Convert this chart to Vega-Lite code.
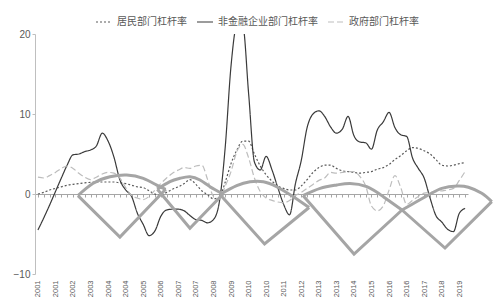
{
  "$schema": "https://vega.github.io/schema/vega-lite/v6.json",
  "width": 433,
  "height": 240,
  "autosize": "none",
  "padding": {"left": 35, "top": 34, "right": 32, "bottom": 30},
  "config": {"view": {"stroke": null}, "font": "Liberation Sans"},
  "datasets": {
    "series": [
      {"d": "2001-01-01", "居民部门杠杆率": 0.0, "非金融企业部门杠杆率": -4.5, "政府部门杠杆率": 2.1},
      {"d": "2001-04-01", "居民部门杠杆率": 0.2, "非金融企业部门杠杆率": -3.0, "政府部门杠杆率": 2.0},
      {"d": "2001-07-01", "居民部门杠杆率": 0.5, "非金融企业部门杠杆率": -1.4, "政府部门杠杆率": 2.3},
      {"d": "2001-10-01", "居民部门杠杆率": 0.7, "非金融企业部门杠杆率": 0.3, "政府部门杠杆率": 2.7},
      {"d": "2002-01-01", "居民部门杠杆率": 0.9, "非金融企业部门杠杆率": 2.0, "政府部门杠杆率": 3.2},
      {"d": "2002-04-01", "居民部门杠杆率": 1.1, "非金融企业部门杠杆率": 3.6, "政府部门杠杆率": 3.5},
      {"d": "2002-07-01", "居民部门杠杆率": 1.2, "非金融企业部门杠杆率": 4.9, "政府部门杠杆率": 3.2},
      {"d": "2002-10-01", "居民部门杠杆率": 1.3, "非金融企业部门杠杆率": 5.0, "政府部门杠杆率": 2.6},
      {"d": "2003-01-01", "居民部门杠杆率": 1.4, "非金融企业部门杠杆率": 5.3, "政府部门杠杆率": 2.1},
      {"d": "2003-04-01", "居民部门杠杆率": 1.45, "非金融企业部门杠杆率": 5.5, "政府部门杠杆率": 1.8},
      {"d": "2003-07-01", "居民部门杠杆率": 1.5, "非金融企业部门杠杆率": 6.0, "政府部门杠杆率": 2.1},
      {"d": "2003-10-01", "居民部门杠杆率": 1.5, "非金融企业部门杠杆率": 7.6, "政府部门杠杆率": 2.5},
      {"d": "2004-01-01", "居民部门杠杆率": 1.5, "非金融企业部门杠杆率": 6.6, "政府部门杠杆率": 2.7},
      {"d": "2004-04-01", "居民部门杠杆率": 1.5, "非金融企业部门杠杆率": 4.6, "政府部门杠杆率": 2.6},
      {"d": "2004-07-01", "居民部门杠杆率": 1.4, "非金融企业部门杠杆率": 1.8, "政府部门杠杆率": 2.0},
      {"d": "2004-10-01", "居民部门杠杆率": 1.3, "非金融企业部门杠杆率": 0.5, "政府部门杠杆率": 0.8},
      {"d": "2005-01-01", "居民部门杠杆率": 1.1, "非金融企业部门杠杆率": -0.3, "政府部门杠杆率": -0.2},
      {"d": "2005-04-01", "居民部门杠杆率": 0.9, "非金融企业部门杠杆率": -2.4, "政府部门杠杆率": -0.5},
      {"d": "2005-07-01", "居民部门杠杆率": 0.8, "非金融企业部门杠杆率": -3.8, "政府部门杠杆率": -0.7},
      {"d": "2005-10-01", "居民部门杠杆率": 0.4, "非金融企业部门杠杆率": -5.2, "政府部门杠杆率": -0.3},
      {"d": "2006-01-01", "居民部门杠杆率": 0.0, "非金融企业部门杠杆率": -4.6, "政府部门杠杆率": 0.5},
      {"d": "2006-04-01", "居民部门杠杆率": -0.2, "非金融企业部门杠杆率": -2.8, "政府部门杠杆率": 1.3},
      {"d": "2006-07-01", "居民部门杠杆率": 0.2, "非金融企业部门杠杆率": -2.0, "政府部门杠杆率": 2.0},
      {"d": "2006-10-01", "居民部门杠杆率": 0.6, "非金融企业部门杠杆率": -1.9, "政府部门杠杆率": 2.6},
      {"d": "2007-01-01", "居民部门杠杆率": 0.9, "非金融企业部门杠杆率": -1.9, "政府部门杠杆率": 3.0},
      {"d": "2007-04-01", "居民部门杠杆率": 1.3, "非金融企业部门杠杆率": -2.1, "政府部门杠杆率": 3.3},
      {"d": "2007-07-01", "居民部门杠杆率": 1.8, "非金融企业部门杠杆率": -2.7, "政府部门杠杆率": 3.2},
      {"d": "2007-10-01", "居民部门杠杆率": 1.2, "非金融企业部门杠杆率": -3.2, "政府部门杠杆率": 3.5},
      {"d": "2008-01-01", "居民部门杠杆率": 0.4, "非金融企业部门杠杆率": -3.3, "政府部门杠杆率": 3.6},
      {"d": "2008-04-01", "居民部门杠杆率": -0.1, "非金融企业部门杠杆率": -3.6, "政府部门杠杆率": 1.8},
      {"d": "2008-07-01", "居民部门杠杆率": -0.6, "非金融企业部门杠杆率": -3.2, "政府部门杠杆率": -0.3},
      {"d": "2008-10-01", "居民部门杠杆率": -0.4, "非金融企业部门杠杆率": -1.0, "政府部门杠杆率": -0.6},
      {"d": "2009-01-01", "居民部门杠杆率": 1.5, "非金融企业部门杠杆率": 5.9, "政府部门杠杆率": 1.0},
      {"d": "2009-04-01", "居民部门杠杆率": 3.8, "非金融企业部门杠杆率": 16.0, "政府部门杠杆率": 2.8},
      {"d": "2009-07-01", "居民部门杠杆率": 5.5, "非金融企业部门杠杆率": 21.0, "政府部门杠杆率": 5.3},
      {"d": "2009-10-01", "居民部门杠杆率": 6.6, "非金融企业部门杠杆率": 21.0, "政府部门杠杆率": 6.2},
      {"d": "2010-01-01", "居民部门杠杆率": 6.6, "非金融企业部门杠杆率": 12.5, "政府部门杠杆率": 4.5},
      {"d": "2010-04-01", "居民部门杠杆率": 5.0, "非金融企业部门杠杆率": 4.0, "政府部门杠杆率": 2.0},
      {"d": "2010-07-01", "居民部门杠杆率": 3.5, "非金融企业部门杠杆率": 3.0, "政府部门杠杆率": 0.3},
      {"d": "2010-10-01", "居民部门杠杆率": 2.4, "非金融企业部门杠杆率": 4.7, "政府部门杠杆率": -0.5},
      {"d": "2011-01-01", "居民部门杠杆率": 1.6, "非金融企业部门杠杆率": 3.0, "政府部门杠杆率": -0.8},
      {"d": "2011-04-01", "居民部门杠杆率": 1.0, "非金融企业部门杠杆率": 0.8, "政府部门杠杆率": -1.0},
      {"d": "2011-07-01", "居民部门杠杆率": 0.7, "非金融企业部门杠杆率": -1.3, "政府部门杠杆率": -1.1},
      {"d": "2011-10-01", "居民部门杠杆率": 0.5, "非金融企业部门杠杆率": -2.6, "政府部门杠杆率": -0.8},
      {"d": "2012-01-01", "居民部门杠杆率": 0.5, "非金融企业部门杠杆率": 1.3, "政府部门杠杆率": -0.2},
      {"d": "2012-04-01", "居民部门杠杆率": 1.0, "非金融企业部门杠杆率": 4.2, "政府部门杠杆率": 0.2},
      {"d": "2012-07-01", "居民部门杠杆率": 1.8, "非金融企业部门杠杆率": 8.3, "政府部门杠杆率": 0.7},
      {"d": "2012-10-01", "居民部门杠杆率": 2.7, "非金融企业部门杠杆率": 10.0, "政府部门杠杆率": 1.2},
      {"d": "2013-01-01", "居民部门杠杆率": 3.3, "非金融企业部门杠杆率": 10.4, "政府部门杠杆率": 1.7},
      {"d": "2013-04-01", "居民部门杠杆率": 3.6, "非金融企业部门杠杆率": 9.7, "政府部门杠杆率": 2.0},
      {"d": "2013-07-01", "居民部门杠杆率": 3.6, "非金融企业部门杠杆率": 8.4, "政府部门杠杆率": 2.7},
      {"d": "2013-10-01", "居民部门杠杆率": 3.2, "非金融企业部门杠杆率": 7.6, "政府部门杠杆率": 2.6},
      {"d": "2014-01-01", "居民部门杠杆率": 2.9, "非金融企业部门杠杆率": 8.1, "政府部门杠杆率": 2.7},
      {"d": "2014-04-01", "居民部门杠杆率": 2.8, "非金融企业部门杠杆率": 9.7, "政府部门杠杆率": 2.8},
      {"d": "2014-07-01", "居民部门杠杆率": 2.7, "非金融企业部门杠杆率": 7.3, "政府部门杠杆率": 2.8},
      {"d": "2014-10-01", "居民部门杠杆率": 2.6, "非金融企业部门杠杆率": 6.5, "政府部门杠杆率": 2.2},
      {"d": "2015-01-01", "居民部门杠杆率": 2.7, "非金融企业部门杠杆率": 6.4, "政府部门杠杆率": 1.0},
      {"d": "2015-04-01", "居民部门杠杆率": 2.8, "非金融企业部门杠杆率": 5.6, "政府部门杠杆率": -1.5},
      {"d": "2015-07-01", "居民部门杠杆率": 3.1, "非金融企业部门杠杆率": 8.0, "政府部门杠杆率": -2.1},
      {"d": "2015-10-01", "居民部门杠杆率": 3.3, "非金融企业部门杠杆率": 9.0, "政府部门杠杆率": -1.5},
      {"d": "2016-01-01", "居民部门杠杆率": 3.7, "非金融企业部门杠杆率": 10.2, "政府部门杠杆率": 0.5},
      {"d": "2016-04-01", "居民部门杠杆率": 4.3, "非金融企业部门杠杆率": 8.3, "政府部门杠杆率": 2.3},
      {"d": "2016-07-01", "居民部门杠杆率": 4.8, "非金融企业部门杠杆率": 7.4, "政府部门杠杆率": 0.8},
      {"d": "2016-10-01", "居民部门杠杆率": 5.4, "非金融企业部门杠杆率": 7.2, "政府部门杠杆率": -1.3},
      {"d": "2017-01-01", "居民部门杠杆率": 5.8, "非金融企业部门杠杆率": 4.5, "政府部门杠杆率": -0.8},
      {"d": "2017-04-01", "居民部门杠杆率": 5.7, "非金融企业部门杠杆率": 3.2, "政府部门杠杆率": -0.3},
      {"d": "2017-07-01", "居民部门杠杆率": 5.4, "非金融企业部门杠杆率": 2.0, "政府部门杠杆率": 0.1},
      {"d": "2017-10-01", "居民部门杠杆率": 5.0, "非金融企业部门杠杆率": -0.5, "政府部门杠杆率": 0.2},
      {"d": "2018-01-01", "居民部门杠杆率": 4.3, "非金融企业部门杠杆率": -2.7, "政府部门杠杆率": 0.3},
      {"d": "2018-04-01", "居民部门杠杆率": 3.6, "非金融企业部门杠杆率": -3.5, "政府部门杠杆率": 0.4},
      {"d": "2018-07-01", "居民部门杠杆率": 3.5, "非金融企业部门杠杆率": -4.4, "政府部门杠杆率": 0.5},
      {"d": "2018-10-01", "居民部门杠杆率": 3.6, "非金融企业部门杠杆率": -4.7, "政府部门杠杆率": 0.7},
      {"d": "2019-01-01", "居民部门杠杆率": 3.8, "非金融企业部门杠杆率": -2.4, "政府部门杠杆率": 1.7},
      {"d": "2019-04-01", "居民部门杠杆率": 3.9, "非金融企业部门杠杆率": -1.8, "政府部门杠杆率": 2.8}
    ],
    "cones": [
      {"c": 1, "p": "arc", "i": 0, "d": "2002-09-17", "v": -0.2},
      {"c": 1, "p": "arc", "i": 1, "d": "2003-05-13", "v": 1.34},
      {"c": 1, "p": "arc", "i": 2, "d": "2004-01-30", "v": 2.16},
      {"c": 1, "p": "arc", "i": 3, "d": "2004-10-17", "v": 2.38},
      {"c": 1, "p": "arc", "i": 4, "d": "2005-07-02", "v": 1.96},
      {"c": 1, "p": "arc", "i": 5, "d": "2006-01-28", "v": 1.11},
      {"c": 1, "p": "arc", "i": 6, "d": "2006-06-17", "v": 0.59},
      {"c": 1, "p": "v", "i": 0, "d": "2002-09-17", "v": -0.2},
      {"c": 1, "p": "v", "i": 1, "d": "2004-07-03", "v": -5.38},
      {"c": 1, "p": "v", "i": 2, "d": "2006-06-17", "v": 0.59},
      {"c": 2, "p": "arc", "i": 0, "d": "2006-02-07", "v": 0.59},
      {"c": 2, "p": "arc", "i": 1, "d": "2006-08-22", "v": 1.54},
      {"c": 2, "p": "arc", "i": 2, "d": "2007-01-26", "v": 1.96},
      {"c": 2, "p": "arc", "i": 3, "d": "2007-06-30", "v": 2.16},
      {"c": 2, "p": "arc", "i": 4, "d": "2007-12-04", "v": 1.75},
      {"c": 2, "p": "arc", "i": 5, "d": "2008-05-08", "v": 0.91},
      {"c": 2, "p": "arc", "i": 6, "d": "2008-11-28", "v": 0.0},
      {"c": 2, "p": "v", "i": 0, "d": "2006-02-07", "v": 0.59},
      {"c": 2, "p": "v", "i": 1, "d": "2007-06-30", "v": -4.29},
      {"c": 2, "p": "v", "i": 2, "d": "2008-11-28", "v": 0.0},
      {"c": 3, "p": "arc", "i": 0, "d": "2008-10-11", "v": -0.06},
      {"c": 3, "p": "arc", "i": 1, "d": "2009-06-28", "v": 1.04},
      {"c": 3, "p": "arc", "i": 2, "d": "2010-01-23", "v": 1.54},
      {"c": 3, "p": "arc", "i": 3, "d": "2010-08-18", "v": 1.54},
      {"c": 3, "p": "arc", "i": 4, "d": "2011-03-14", "v": 0.91},
      {"c": 3, "p": "arc", "i": 5, "d": "2011-11-29", "v": -0.34},
      {"c": 3, "p": "arc", "i": 6, "d": "2012-08-01", "v": -1.69},
      {"c": 3, "p": "v", "i": 0, "d": "2008-10-11", "v": -0.06},
      {"c": 3, "p": "v", "i": 1, "d": "2010-09-06", "v": -6.25},
      {"c": 3, "p": "v", "i": 2, "d": "2012-08-01", "v": -1.69},
      {"c": 4, "p": "arc", "i": 0, "d": "2012-04-28", "v": -0.19},
      {"c": 4, "p": "arc", "i": 1, "d": "2013-01-20", "v": 0.71},
      {"c": 4, "p": "arc", "i": 2, "d": "2013-10-07", "v": 1.13},
      {"c": 4, "p": "arc", "i": 3, "d": "2014-05-01", "v": 1.31},
      {"c": 4, "p": "arc", "i": 4, "d": "2015-01-18", "v": 0.91},
      {"c": 4, "p": "arc", "i": 5, "d": "2015-10-03", "v": -0.34},
      {"c": 4, "p": "arc", "i": 6, "d": "2016-07-21", "v": -2.0},
      {"c": 4, "p": "v", "i": 0, "d": "2012-04-28", "v": -0.19},
      {"c": 4, "p": "v", "i": 1, "d": "2014-07-03", "v": -7.5},
      {"c": 4, "p": "v", "i": 2, "d": "2016-07-21", "v": -2.0},
      {"c": 5, "p": "arc", "i": 0, "d": "2016-07-21", "v": -2.0},
      {"c": 5, "p": "arc", "i": 1, "d": "2017-09-06", "v": -0.13},
      {"c": 5, "p": "arc", "i": 2, "d": "2018-04-02", "v": 0.71},
      {"c": 5, "p": "arc", "i": 3, "d": "2018-11-27", "v": 1.0},
      {"c": 5, "p": "arc", "i": 4, "d": "2019-05-22", "v": 0.84},
      {"c": 5, "p": "arc", "i": 5, "d": "2019-12-17", "v": 0.09},
      {"c": 5, "p": "arc", "i": 6, "d": "2020-05-21", "v": -0.96},
      {"c": 5, "p": "v", "i": 0, "d": "2016-07-21", "v": -2.0},
      {"c": 5, "p": "v", "i": 1, "d": "2018-05-22", "v": -6.75},
      {"c": 5, "p": "v", "i": 2, "d": "2020-05-21", "v": -0.96}
    ]
  },
  "layer": [
    {
      "data": {"name": "series"},
      "transform": [{"fold": ["居民部门杠杆率", "非金融企业部门杠杆率", "政府部门杠杆率"], "as": ["s", "v"]}],
      "mark": {"type": "line", "interpolate": "monotone", "clip": true, "strokeWidth": 1.2},
      "encoding": {
        "x": {
          "field": "d", "type": "temporal",
          "scale": {"type": "utc", "domain": [{"year": 2000, "month": 11, "date": 16, "utc": true}, {"year": 2019, "month": 5, "date": 16, "utc": true}]},
          "axis": {
            "orient": "bottom", "offset": -80, "title": null, "grid": false,
            "tickCount": {"interval": "month", "step": 3},
            "domainColor": "#a6a6a6", "tickColor": "#a6a6a6", "tickSize": 3,
            "labelExpr": "((utcyear(datum.value) - 2001) * 4 + floor(utcmonth(datum.value) / 3)) % 3 == 0 ? utcFormat(datum.value, '%Y') : ''",
            "labelAngle": 270, "labelPadding": 83, "labelFontSize": 7.5, "labelColor": "#595959",
            "labelOverlap": false, "labelFlush": false, "labelBound": false
          }
        },
        "y": {
          "field": "v", "type": "quantitative",
          "scale": {"domain": [-10, 20], "nice": false},
          "axis": {
            "title": null, "grid": false, "values": [-10, -5, 0, 5, 10, 15, 20],
            "domainColor": "#bfbfbf", "tickColor": "#bfbfbf", "tickSize": 3,
            "labelFontSize": 10, "labelColor": "#595959", "labelPadding": 2
          }
        },
        "color": {
          "field": "s", "type": "nominal",
          "scale": {"domain": ["居民部门杠杆率", "非金融企业部门杠杆率", "政府部门杠杆率"], "range": ["#5a5a5a", "#3a3a3a", "#bdbdbd"]},
          "legend": {"orient": "none", "legendX": 60, "legendY": -21, "direction": "horizontal", "title": null, "symbolType": "stroke", "symbolSize": 256, "symbolStrokeWidth": 1.2, "labelFontSize": 10, "labelFont": "Noto Sans CJK SC", "labelColor": "#595959", "labelOffset": 4, "columnPadding": 7}
        },
        "strokeDash": {
          "field": "s", "type": "nominal",
          "scale": {"domain": ["居民部门杠杆率", "非金融企业部门杠杆率", "政府部门杠杆率"], "range": [[2, 2], [1, 0], [6, 3]]},
          "legend": {"orient": "none", "legendX": 60, "legendY": -21, "direction": "horizontal", "title": null, "symbolType": "stroke", "symbolSize": 256, "symbolStrokeWidth": 1.2, "labelFontSize": 10, "labelFont": "Noto Sans CJK SC", "labelColor": "#595959", "labelOffset": 4, "columnPadding": 7}
        }
      }
    },
    {
      "data": {"name": "cones"},
      "transform": [{"filter": "datum.p == 'arc'"}],
      "mark": {"type": "line", "interpolate": "natural", "stroke": "#a5a5a5", "strokeWidth": 3, "clip": false},
      "encoding": {
        "x": {"field": "d", "type": "temporal"},
        "y": {"field": "v", "type": "quantitative"},
        "detail": {"field": "c", "type": "nominal"},
        "order": {"field": "i", "type": "quantitative"}
      }
    },
    {
      "data": {"name": "cones"},
      "transform": [{"filter": "datum.p == 'v'"}],
      "mark": {"type": "line", "interpolate": "linear", "stroke": "#a5a5a5", "strokeWidth": 3, "strokeJoin": "miter", "clip": false},
      "encoding": {
        "x": {"field": "d", "type": "temporal"},
        "y": {"field": "v", "type": "quantitative"},
        "detail": {"field": "c", "type": "nominal"},
        "order": {"field": "i", "type": "quantitative"}
      }
    }
  ]
}
